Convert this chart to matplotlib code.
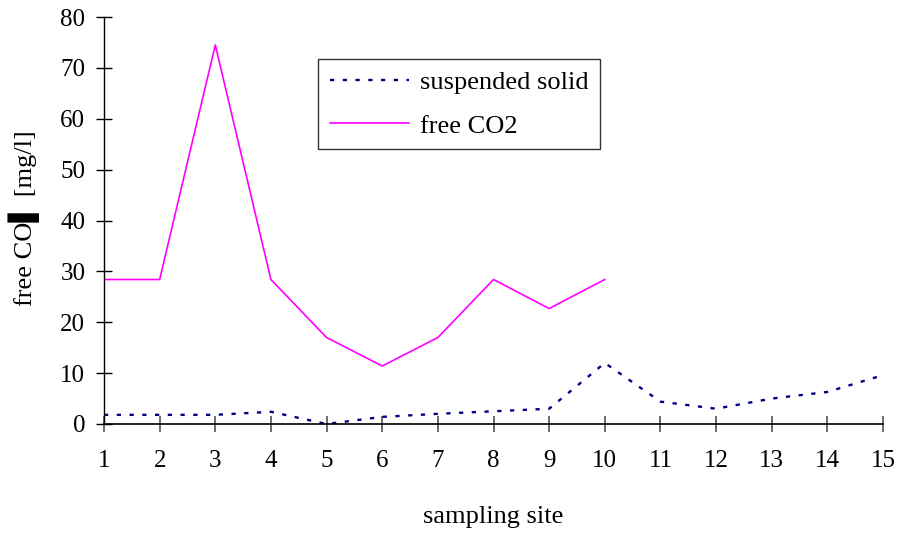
import matplotlib
matplotlib.use("Agg")
import matplotlib.pyplot as plt

plt.rcParams['font.family'] = ['Liberation Serif', 'DejaVu Serif']

sites = list(range(1, 16))
suspended_solid = [1.8, 1.8, 1.8, 2.4, 0.0, 1.4, 2.0, 2.5, 3.0, 12.0, 4.4, 3.0, 5.0, 6.3, 9.6]
co2_sites = list(range(1, 11))
free_co2 = [28.4, 28.4, 74.5, 28.4, 17.0, 11.4, 17.0, 28.4, 22.7, 28.4]
y_ticks = [0, 10, 20, 30, 40, 50, 60, 70, 80]

fig = plt.figure(figsize=(9.01, 5.33), dpi=100)
ax = fig.add_axes([104 / 901, 1 - 424 / 533, (883 - 104) / 901, (424 - 17) / 533])

ax.plot(sites, suspended_solid, color='#000080', linewidth=1.7,
        linestyle=(0, (1.8, 3.6)), label='suspended solid')
ax.plot(co2_sites, free_co2, color='#FF00FF', linewidth=1.2, label='free CO2')

ax.set_xlim(1, 15)
ax.set_ylim(0, 80)
ax.set_xticks(sites)
ax.set_yticks(y_ticks)

for side in ('top', 'right'):
    ax.spines[side].set_visible(False)
ax.spines['left'].set_linewidth(1.0)
ax.spines['bottom'].set_linewidth(1.2)

ax.tick_params(axis='y', direction='inout', length=11, width=1.0, colors='black',
               labelsize=18, pad=8)
ax.tick_params(axis='x', direction='inout', length=12, width=1.2, color='#555555',
               labelcolor='black', labelsize=18, pad=13)

ax.set_xlabel('sampling site', fontsize=19, labelpad=24)
ax.set_ylabel('free CO\u258C [mg/l]', fontsize=19,
              fontfamily=['Liberation Serif', 'DejaVu Sans'])
ax.yaxis.set_label_coords(-0.082, 0.505)

leg = ax.legend(loc='upper left', bbox_to_anchor=((318 - 104) / 779, 1 - (59 - 17) / 407),
                fontsize=19, frameon=True, fancybox=False, edgecolor='black',
                handlelength=3.0, handletextpad=0.4, borderpad=0.45, labelspacing=0.75,
                borderaxespad=0)
leg.get_frame().set_linewidth(1.0)

fig.savefig('out.png', dpi=100)
